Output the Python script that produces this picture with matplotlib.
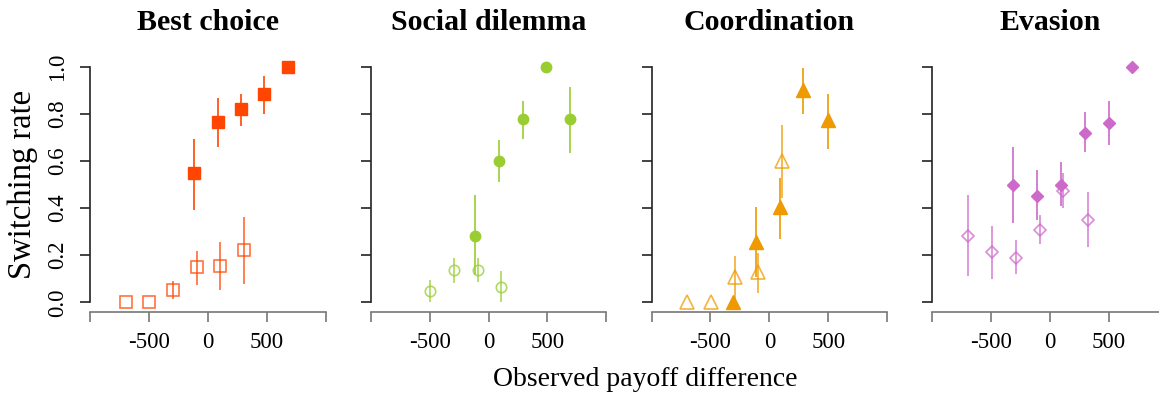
import matplotlib
matplotlib.use('Agg')
import matplotlib.pyplot as plt

plt.rcParams['font.family'] = ['Liberation Serif', 'DejaVu Serif']

titles = ['Best choice', 'Social dilemma', 'Coordination', 'Evasion']
colors = ['#FF4500', '#9ACD32', '#EE9A00', '#CD69C9']
markers = ['s', 'o', '^', 'D']
sizes = [8, 7.5, 9.5, 6.3]

# filled markers: payoff difference, switching rate, lower/upper interval
filled_x = [
    [-115, 85, 280, 480, 685],
    [-113, 90, 291, 486, 689],
    [-310, -114, 91, 290, 494],
    [-313, -111, 96, 292, 496, 693],
]
filled_y = [
    [0.548, 0.765, 0.818, 0.882, 1.0],
    [0.283, 0.599, 0.776, 1.0, 0.776],
    [0.003, 0.256, 0.404, 0.901, 0.773],
    [0.499, 0.451, 0.499, 0.720, 0.759, 1.0],
]
filled_lo = [
    [0.393, 0.658, 0.746, 0.799, 1.0],
    [0.114, 0.510, 0.694, 1.0, 0.634],
    [0.003, 0.108, 0.270, 0.799, 0.651],
    [0.338, 0.348, 0.408, 0.638, 0.666, 1.0],
]
filled_hi = [
    [0.693, 0.866, 0.883, 0.961, 1.0],
    [0.455, 0.690, 0.855, 1.0, 0.915],
    [0.003, 0.404, 0.528, 0.992, 0.883],
    [0.658, 0.559, 0.593, 0.808, 0.855, 1.0],
]

# open markers
open_x = [
    [-695, -495, -295, -95, 105, 305],
    [-500, -294, -90, 107],
    [-699, -497, -293, -97, 110],
    [-694, -492, -294, -87, 113, 319],
]
open_y = [
    [0.0, 0.0, 0.054, 0.149, 0.154, 0.223],
    [0.046, 0.135, 0.139, 0.065],
    [0.0, 0.0, 0.106, 0.127, 0.601],
    [0.283, 0.213, 0.189, 0.307, 0.473, 0.351],
]
open_lo = [
    [0.0, 0.0, 0.015, 0.075, 0.052, 0.079],
    [0.0, 0.080, 0.087, 0.0],
    [0.0, 0.0, 0.0, 0.041, 0.444],
    [0.113, 0.100, 0.121, 0.246, 0.400, 0.234],
]
open_hi = [
    [0.0, 0.0, 0.092, 0.217, 0.254, 0.362],
    [0.094, 0.186, 0.186, 0.132],
    [0.0, 0.0, 0.196, 0.207, 0.754],
    [0.454, 0.325, 0.263, 0.369, 0.549, 0.466],
]

W, H = 1159, 397
fig = plt.figure(figsize=(W / 100, H / 100), dpi=100)

for i in range(4):
    left = (90 + 280.8 * i) / W
    ax = fig.add_axes([left, 85.3 / H, 235.5 / W, 254.6 / H])
    c = colors[i]
    ax.vlines(open_x[i], open_lo[i], open_hi[i], color=c, lw=1.2, alpha=0.8)
    ax.plot(open_x[i], open_y[i], linestyle='none', marker=markers[i],
            ms=sizes[i], mfc='none', mec=c, mew=1.2, alpha=0.75)
    ax.vlines(filled_x[i], filled_lo[i], filled_hi[i], color=c, lw=1.2)
    ax.plot(filled_x[i], filled_y[i], linestyle='none', marker=markers[i],
            ms=sizes[i], color=c, mec=c)

    ax.set_xlim(-1000, 1000)
    ax.set_ylim(-0.04, 1.04)
    for s in ['top', 'right']:
        ax.spines[s].set_visible(False)
    ax.spines['left'].set_bounds(0, 1)
    ax.spines['left'].set_color('#222222')
    ax.spines['bottom'].set_color('#777777')
    ax.spines['left'].set_linewidth(1.2)
    ax.spines['bottom'].set_linewidth(1.2)

    ax.set_xticks([-1000, -500, 0, 500, 1000])
    ax.set_xticklabels(['', '-500', '0', '500', ''])
    ax.tick_params(axis='x', length=7.5, width=1.2, color='#777777',
                   labelsize=16.5, pad=7)
    ax.set_yticks([0, 0.2, 0.4, 0.6, 0.8, 1.0])
    if i == 0:
        ax.set_yticklabels(['0.0', '0.2', '0.4', '0.6', '0.8', '1.0'],
                           rotation=90, va='center')
        ax.tick_params(axis='y', length=7.5, width=1.2, color='#222222',
                       labelsize=16.5, pad=8)
        ax.set_ylabel('Switching rate', fontsize=23.5, labelpad=7)
    else:
        ax.set_yticklabels([])
        ax.tick_params(axis='y', length=7.5, width=1.2, color='#222222')

    fig.text(left + 235.5 / W / 2, 1 - 23 / H, titles[i], ha='center',
             va='center', fontsize=21.5, fontweight='bold')

fig.text(645 / W, 1 - 379 / H, 'Observed payoff difference', ha='center',
         va='center', fontsize=20)

fig.savefig('out.png', dpi=100)
